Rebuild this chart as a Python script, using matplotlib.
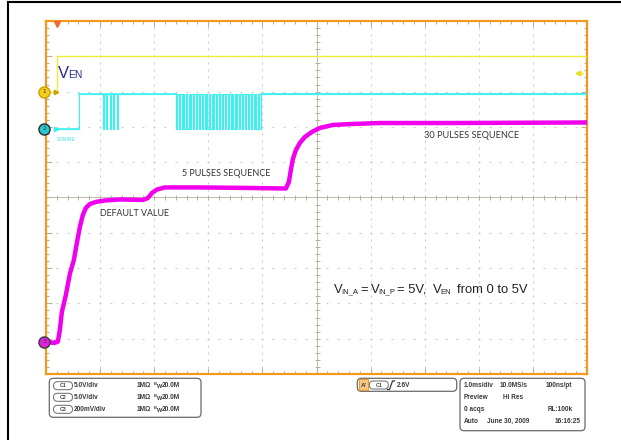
import numpy as np
import matplotlib
matplotlib.use("Agg")
import matplotlib.pyplot as plt
from matplotlib.transforms import IdentityTransform, blended_transform_factory
from matplotlib.patches import FancyBboxPatch
from matplotlib.lines import Line2D

# ---------------- data ----------------
TIME_PER_DIV_MS = 1.0
TRIGGER_POS_DIV = 0.21
N_DIV_X = 10
N_DIV_Y = 10

channel_ids = ["1", "2", "3"]
channel_v_per_div = [5.0, 5.0, 0.2]
channel_ground_div = [8.0, 6.95, 0.915]
trigger_level_v = 2.6

# C1 : V_EN
ven_t = [-0.11, 0.0, 0.0, 9.79]
ven_v = [0.0, 0.0, 5.0, 5.0]

# C2 : S-WIRE
swire_t0 = -0.05
swire_enable_t = 0.40
swire_high_v = 4.9
pulse_low_ms = 0.022
pulses_5_t = [0.835, 0.900, 0.965, 1.030, 1.095]
pulses_30_t = [2.190, 2.243, 2.296, 2.350, 2.403, 2.456, 2.509, 2.562, 2.616, 2.669,
               2.722, 2.775, 2.828, 2.882, 2.935, 2.988, 3.041, 3.094, 3.148, 3.201,
               3.254, 3.307, 3.360, 3.414, 3.467, 3.520, 3.573, 3.626, 3.680, 3.733]

# C3 : output voltage
vout_t = [-0.21, -0.176, -0.083, 0.009, 0.046, 0.083, 0.157, 0.231, 0.305, 0.360,
          0.416, 0.471, 0.527, 0.601, 0.712, 0.878, 1.155, 1.580, 1.673, 1.747,
          1.839, 1.987, 2.634, 3.558, 4.224, 4.279, 4.316, 4.353, 4.409, 4.482,
          4.575, 4.704, 4.852, 5.092, 5.407, 5.961, 7.255, 9.79]
vout_v = [0.0, 0.0, -0.007, 0.0, 0.066, 0.168, 0.265, 0.384, 0.463, 0.559,
          0.650, 0.718, 0.758, 0.780, 0.792, 0.800, 0.806, 0.803, 0.814, 0.842,
          0.862, 0.874, 0.874, 0.871, 0.868, 0.905, 0.973, 1.035, 1.086, 1.126,
          1.160, 1.188, 1.211, 1.228, 1.233, 1.239, 1.239, 1.242]

ch_settings = [("C1", "5.0V/div"), ("C2", "5.0V/div"), ("C3", "200mV/div")]
ch_impedance = "1M\u03a9"
ch_bandwidth = "20.0M"
acq_rows = [("1.0ms/div", "10.0MS/s", "100ns/pt"),
            ("Preview", "Hi Res", ""),
            ("0 acqs", "", "RL:100k"),
            ("Auto", "June 30, 2009", "16:16:25")]

# ---------------- style ----------------
W, H = 621, 440
ORANGE = "#F29A1E"
TAN = "#B8B09C"
DOT = "#CACACA"
YEL = "#EDED35"
CYAN = "#40F0F0"
MAG = "#F000EE"
NAVY = "#2A2A8C"
TXT = "#333333"
BOXTXT = "#3A3A3A"

fig = plt.figure(figsize=(W / 100, H / 100), dpi=100)
fig.patch.set_facecolor("white")
renderer = fig.canvas.get_renderer()
ID = IdentityTransform()


def ptext(x, y, s, size, ha="left", va="baseline", **kw):
    return fig.text(x, H - y, s, transform=ID, fontsize=size, ha=ha, va=va, **kw)


def fit_text(x0, x1, y, s, family, color, weight="normal"):
    t = ptext(x0, y, s, 10, family=family, color=color, weight=weight)
    w = t.get_window_extent(renderer).width
    t.set_fontsize(10 * (x1 - x0) / w)
    return t


def run_text(y, runs, family, color, min_gap=0.4):
    """runs: (text, size, dy_px, target_x); never overlaps the previous run."""
    end = -1e9
    for s, sz, dy, tx in runs:
        x = max(tx, end + min_gap)
        t = ptext(x, y + dy, s, sz, family=family, color=color)
        end = x + t.get_window_extent(renderer).width


# black page borders
fig.add_artist(Line2D([8.3, 8.3], [H - 1.5, 0], transform=ID, color="black", lw=1.5))
fig.add_artist(Line2D([8.3, W], [H - 2.2, H - 2.2], transform=ID, color="black", lw=1.5))

# ---------------- graticule ----------------
L, R, T, B = 46, 587, 21, 374
rect = [L / W, 1 - B / H, (R - L) / W, (B - T) / H]
axg = fig.add_axes(rect)
axg.set_xlim(0, N_DIV_X)
axg.set_ylim(0, N_DIV_Y)
for s in axg.spines.values():
    s.set_color(ORANGE)
    s.set_linewidth(1.6)
axg.set_xticks(np.arange(0, N_DIV_X + 1))
axg.set_yticks(np.arange(0, N_DIV_Y + 1))
axg.set_xticks(np.arange(0, N_DIV_X + 0.01, 0.2), minor=True)
axg.set_yticks(np.arange(0, N_DIV_Y + 0.01, 0.2), minor=True)
axg.tick_params(which="both", direction="in", top=True, right=True, bottom=True, left=True,
                labelbottom=False, labelleft=False, color=TAN, width=0.8)
axg.tick_params(which="major", length=4.2)
axg.tick_params(which="minor", length=2.2)
minor_pos = np.arange(0.2, N_DIV_X, 0.2)
for k in range(1, N_DIV_X):
    if k == N_DIV_X // 2:
        continue
    axg.plot(np.full_like(minor_pos, k), minor_pos, ls="none", marker="|", ms=1.5, mew=0.8, color=DOT)
    axg.plot(minor_pos, np.full_like(minor_pos, k), ls="none", marker="_", ms=1.5, mew=0.8, color=DOT)
axg.axvline(N_DIV_X / 2, color=TAN, lw=0.6)
axg.axhline(N_DIV_Y / 2, color=TAN, lw=0.6)
axg.plot(np.full_like(minor_pos, N_DIV_X / 2), minor_pos, ls="none", marker="_", ms=3.6, mew=0.7, color=TAN)
axg.plot(minor_pos, np.full_like(minor_pos, N_DIV_Y / 2), ls="none", marker="|", ms=3.6, mew=0.7, color=TAN)
axg.set_zorder(1)
axg.patch.set_alpha(0)

# ---------------- channel axes ----------------
tmin = -TRIGGER_POS_DIV * TIME_PER_DIV_MS
tmax = (N_DIV_X - TRIGGER_POS_DIV) * TIME_PER_DIV_MS
chan_axes = []
for i in range(3):
    a = fig.add_axes(rect)
    a.set_xlim(tmin, tmax)
    g = channel_ground_div[i]
    a.set_ylim(-g * channel_v_per_div[i], (N_DIV_Y - g) * channel_v_per_div[i])
    a.axis("off")
    a.set_zorder(2 + i)
    chan_axes.append(a)
ax1, ax2, ax3 = chan_axes

# C1
ax1.plot(ven_t, ven_v, color=YEL, lw=1.0, zorder=3)
# C2 waveform from pulse times
st = [swire_t0, swire_enable_t, swire_enable_t]
sv = [0.0, 0.0, swire_high_v]
for p in pulses_5_t + pulses_30_t:
    st += [p, p, p + pulse_low_ms, p + pulse_low_ms]
    sv += [swire_high_v, 0.0, 0.0, swire_high_v]
st.append(tmax)
sv.append(swire_high_v)
ax2.plot(st, sv, color=CYAN, lw=0.85, zorder=3)
ax2.plot([st[0], swire_enable_t], [0, 0], color=CYAN, lw=1.2, zorder=3)
ax2.plot([pulses_30_t[-1] + pulse_low_ms, tmax], [swire_high_v] * 2, color=CYAN, lw=1.4, zorder=3)
ax2.plot([swire_enable_t, pulses_30_t[0]], [swire_high_v] * 2, color=CYAN, lw=1.2, zorder=3)
# C3
ax3.plot(vout_t, vout_v, color=MAG, lw=3.2, solid_joinstyle="round", solid_capstyle="round", zorder=3)

# channel ground markers
mk_face = ["#F5CF1E", "#28C8D0", "#E020E0"]
mk_edge = ["#C9A200", "#2A2A2A", "#3A3A3A"]
arrow_col = ["#C9A200", CYAN, MAG]
for i, a in enumerate(chan_axes):
    tr = blended_transform_factory(a.transAxes, a.transData)
    a.plot([0.018], [0], marker=">", ms=3.2, color=arrow_col[i], transform=tr, clip_on=False, zorder=5)
    a.plot([-0.003], [0], marker="o", ms=8, mfc=mk_face[i], mec=mk_edge[i], mew=1.0,
           transform=tr, clip_on=False, zorder=6)
    a.text(-0.003, 0, channel_ids[i], transform=tr, fontsize=4.2, ha="center", va="center",
           color="#333333", zorder=7, clip_on=False)

# trigger position and level
trb = blended_transform_factory(ax1.transData, ax1.transAxes)
ax1.plot([0], [0.991], marker="v", ms=4, color="#F06A30", transform=trb, clip_on=False, zorder=6)
trl = blended_transform_factory(ax1.transAxes, ax1.transData)
ax1.plot([0.982, 0.992], [trigger_level_v] * 2, color=YEL, lw=0.9, transform=trl, zorder=6)
ax1.plot([0.984], [trigger_level_v], marker="<", ms=3.5, color="#E8E020", transform=trl, zorder=6)

# ---------------- annotations ----------------
run_text(78.3, [("V", 12, 0, 58.3), ("EN", 7.5, 0, 66.7)], "Liberation Sans", NAVY, min_gap=-1.0)
fit_text(57, 76, 140.5, "S-WIRE", "Liberation Sans", "#38E0E0")

fit_text(100, 169.3, 216, "DEFAULT VALUE", "Lato", TXT)
fit_text(182.3, 270.7, 176, "5 PULSES SEQUENCE", "Lato", TXT)
fit_text(424.3, 518.3, 138.3, "30 PULSES SEQUENCE", "Lato", TXT)

big, small = 9.4, 5.5
run_text(292.7,
         [("V", big, 0, 334.3), ("IN_A", small, 0.8, 340.9), ("=", big, 0, 360.7),
          ("V", big, 0, 370.7), ("IN_P", small, 0.8, 377.5), ("= 5V,", big, 0, 397.3),
          ("V", big, 0, 433.3), ("EN", small, 0.8, 440.2), ("from 0 to 5V", big, 0, 456.7)],
         "Liberation Sans", "#222222", min_gap=-1.2)

# ---------------- info boxes ----------------
def rbox(x0, y0, x1, y1, r=4, ec="#6A6A6A", lw=0.9, fc="none"):
    p = FancyBboxPatch((x0, H - y1), x1 - x0, y1 - y0, boxstyle=f"round,pad=0,rounding_size={r}",
                       transform=ID, ec=ec, fc=fc, lw=lw)
    fig.add_artist(p)
    return p


def oval(x0, yc, label):
    rbox(x0, yc - 4, x0 + 19, yc + 4, r=4, ec="#6A6A6A", lw=0.7)
    ptext(x0 + 9.5, yc, label, 3.8, ha="center", va="center", color="#444444",
          family="Liberation Sans", weight="bold")


bfs = 4.7
bkw = dict(family="Liberation Sans", weight="bold", color=BOXTXT, va="center")
rbox(49.3, 378.3, 201, 417.3)
for (cname, vdiv), yc in zip(ch_settings, [385.7, 397.3, 409.3]):
    oval(53.5, yc, cname)
    ptext(74, yc, vdiv, bfs, **bkw)
    ptext(136.7, yc, ch_impedance, bfs, **bkw)
    ptext(153.8, yc - 1.8, "B", 3.0, **bkw)
    ptext(156.6, yc + 0.9, "W", 4.0, **bkw)
    ptext(162, yc, ch_bandwidth, bfs, **bkw)

rbox(357.3, 378.3, 456.7, 391.3)
rbox(359.5, 379.5, 368.5, 390.3, r=0.5, ec="#F09A28", fc="#F7C88A", lw=0.8)
ptext(364, 385, "A'", 4.5, ha="center", **bkw)
oval(369.3, 385, "C1")
fig.add_artist(Line2D([387.5, 389.5, 392.5, 394.5], [H - 389.5, H - 389.5, H - 381, H - 381],
                      transform=ID, color=BOXTXT, lw=0.9))
ptext(396.7, 385, "2.6V", bfs, **bkw)

rbox(460, 378.3, 585, 430.7)
for row, yc in zip(acq_rows, [385.7, 397.5, 409.3, 421.2]):
    a, b, c = row
    ptext(464, yc, a, bfs, **bkw)
    if b:
        bx = 503.3 if b == "Hi Res" else (486.7 if "June" in b else 499.8)
        ptext(bx, yc, b, bfs, **bkw)
    if c:
        ptext(581 if c.startswith("16") else 572.5, yc, c, bfs, ha="right", **bkw)

fig.savefig("out.png", dpi=100)
